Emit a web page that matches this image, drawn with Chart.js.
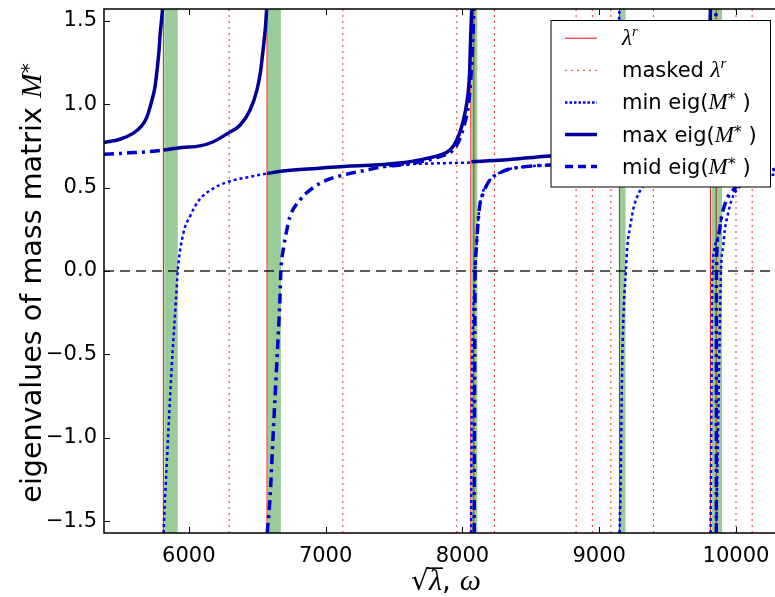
<!DOCTYPE html>
<html>
<head>
<meta charset="utf-8">
<script src="https://cdn.jsdelivr.net/npm/chart.js@4.4.1/dist/chart.umd.min.js"></script>
<style>
  html, body { margin: 0; padding: 0; background: #fff; }
  #wrap { width: 775px; height: 597px; position: relative; }
</style>
</head>
<body>
<div id="wrap"><canvas id="eigChart"></canvas></div>
<script>
const HALF_PI = Math.PI / 2;

// axes
const xLimits = [5380, 10285];
const yLimits = [-HALF_PI, HALF_PI];
const xTicks = [6000, 7000, 8000, 9000, 10000];
const yTicks = [-1.5, -1.0, -0.5, 0.0, 0.5, 1.0, 1.5];

// resonances
const lambdaR = [5814, 6572, 8062, 8084, 9148, 9813, 9855];
const maskedLambdaR = [6295, 7126, 7959, 8234, 8831, 8950, 9085, 9396, 10000, 10118];
const greenBands = [[5820, 5920], [6578, 6673], [8070, 8111], [9151, 9194], [9822, 9898]];

// eigenvalue branches (arctan scale), each branch a list of [x, y]
const maxEig = [
  [[5380, 0.77], [5497, 0.79], [5592, 0.825], [5650, 0.865], [5692, 0.92], [5729, 1.02], [5752, 1.10], [5770, 1.22], [5782, 1.32], [5791, 1.425], [5800, 1.50], [5808, HALF_PI]],
  [[5814, 0.725], [5950, 0.74], [6082, 0.75], [6179, 0.775], [6286, 0.826], [6374, 0.874], [6447, 0.964], [6498, 1.084], [6525, 1.20], [6542, 1.32], [6560, 1.46], [6569, HALF_PI]],
  [[6572, 0.585], [6690, 0.599], [6934, 0.615], [7178, 0.629], [7421, 0.639], [7616, 0.655], [7738, 0.675], [7835, 0.695], [7909, 0.725], [7958, 0.784], [7994, 0.864], [8018, 0.944], [8042, 1.07], [8053, 1.2], [8060, 1.40], [8068, HALF_PI]],
  [[8066, 0.655], [8300, 0.665], [8640, 0.69], [9000, 0.70], [9400, 0.72], [9650, 0.76], [9760, 0.90], [9795, 1.15], [9808, 1.4], [9813, HALF_PI]]
];
const midEig = [
  [[5380, 0.70], [5500, 0.705], [5600, 0.71], [5700, 0.715], [5814, 0.725]],
  [[6573, -HALF_PI], [6593, -1.37], [6617, -0.97], [6642, -0.57], [6666, -0.17], [6673, 0], [6690, 0.126], [6715, 0.24], [6739, 0.325], [6812, 0.425], [6885, 0.485], [7007, 0.545], [7129, 0.575], [7300, 0.605], [7421, 0.625], [7600, 0.64], [7750, 0.665], [7850, 0.69], [7925, 0.72], [7975, 0.78], [8015, 0.88], [8045, 1.0], [8065, 1.2], [8078, 1.42], [8084, HALF_PI]],
  [[8086, -HALF_PI], [8088, -1.0], [8090, -0.5], [8093, 0], [8100, 0.12], [8115, 0.3], [8128, 0.40], [8150, 0.46], [8188, 0.53], [8290, 0.595], [8450, 0.625], [8640, 0.635], [9000, 0.65], [9500, 0.67], [9700, 0.72], [9800, 0.9], [9840, 1.3], [9855, HALF_PI]],
  [[9856, -HALF_PI], [9856.5, -0.6], [9857, 0], [9869, 0.205], [9894, 0.325], [9930, 0.425], [9991, 0.495], [10100, 0.56], [10285, 0.61]]
];
const minEig = [
  [[5815, -HALF_PI], [5826, -1.37], [5850, -0.97], [5875, -0.573], [5906, -0.174], [5919, 0], [5960, 0.226], [6010, 0.33], [6075, 0.425], [6179, 0.495], [6288, 0.535], [6447, 0.565], [6572, 0.585]],
  [[7420, 0.625], [7600, 0.64], [7800, 0.645], [8062, 0.65]],
  [[8063, -HALF_PI], [8068, -0.8], [8078, -0.3], [8090, -0.05], [8095, 0.03], [8115, 0.3], [8128, 0.40], [8188, 0.53], [8290, 0.595], [8450, 0.625], [8640, 0.635], [8900, 0.66], [9080, 0.75], [9130, 1.1], [9148, HALF_PI]],
  [[9149, -HALF_PI], [9158, -1.2], [9166, -0.65], [9178, -0.25], [9195, 0], [9205, 0.145], [9225, 0.26], [9255, 0.39], [9322, 0.51], [9450, 0.58], [9650, 0.63], [9770, 0.75], [9805, 1.2], [9812, HALF_PI]],
  [[9814, -HALF_PI], [9820, -0.8], [9826, -0.1], [9840, 0.12], [9869, 0.205], [9894, 0.325]],
  [[9856, -HALF_PI], [9870, -0.9], [9880, -0.4], [9890, 0], [9906, 0.145], [9918, 0.245], [9942, 0.345], [9967, 0.425], [10004, 0.485], [10100, 0.54], [10285, 0.58]]
];

const SANS = '"DejaVu Sans"';
const SERIF = '"Liberation Serif"';
const MAX_COLOR = '#000099';
const MID_COLOR = '#0000cc';
const MIN_COLOR = '#0000ff';

function branchesToPoints(branches) {
  const pts = [];
  branches.forEach((b, i) => {
    if (i) pts.push({x: b[0][0], y: null});
    b.forEach(([x, y]) => pts.push({x, y}));
  });
  return pts;
}

function verticalLines(xs) {
  const pts = [];
  xs.forEach((x, i) => {
    if (i) pts.push({x, y: null});
    pts.push({x, y: yLimits[0]}, {x, y: yLimits[1]});
  });
  return pts;
}

const curve = {showLine: true, pointRadius: 0, fill: false, spanGaps: false, clip: 0, cubicInterpolationMode: 'monotone', borderCapStyle: 'butt'};
const straight = {showLine: true, pointRadius: 0, fill: false, spanGaps: false, clip: 0, tension: 0, borderCapStyle: 'butt'};

const datasets = [
  {...curve, label: 'mid', data: branchesToPoints(midEig), borderColor: MID_COLOR, borderWidth: 3.5, borderDash: [10, 5, 3, 5], order: 0},
  {...curve, label: 'max', data: branchesToPoints(maxEig), borderColor: MAX_COLOR, borderWidth: 3.5, order: 1},
  {...curve, label: 'min', data: branchesToPoints(minEig), borderColor: MIN_COLOR, borderWidth: 2.5, borderDash: [3, 3], order: 2},
  {...straight, label: 'zero', data: [{x: xLimits[0], y: 0}, {x: xLimits[1], y: 0}], borderColor: 'rgba(0,0,0,0.85)', borderWidth: 1.3, borderDash: [10, 6], order: 3},
  ...greenBands.map(([a, b]) => ({...straight, label: 'band', data: [{x: a, y: yLimits[1]}, {x: b, y: yLimits[1]}], borderWidth: 0, backgroundColor: 'rgba(0,128,0,0.4)', fill: {value: yLimits[0]}, order: 4})),
  {...straight, label: 'lambda r', data: verticalLines(lambdaR), borderColor: '#ff0000', borderWidth: 1, order: 6},
  {...straight, label: 'masked', data: verticalLines(maskedLambdaR), borderColor: 'rgba(255,0,0,0.85)', borderWidth: 1, borderDash: [2, 4], order: 7}
];

function runsWidth(ctx, runs) {
  let w = 0;
  runs.forEach(r => { ctx.font = r.font; w += ctx.measureText(r.text).width; });
  return w;
}
function drawRuns(ctx, runs, x, y) {
  let cx = x;
  runs.forEach(r => {
    ctx.font = r.font;
    ctx.fillText(r.text, cx, y + (r.dy || 0));
    cx += ctx.measureText(r.text).width;
  });
  return cx;
}

const LFS = 21;
const lamR = [{text: 'λ', font: `italic ${LFS + 2}px ${SERIF}`}, {text: 'r', font: `italic ${LFS - 6}px ${SERIF}`, dy: -9}];
const mStar = [{text: 'M', font: `italic ${LFS + 2}px ${SERIF}`}, {text: '*', font: `${LFS - 5}px ${SANS}`, dy: -5}, {text: ' )', font: `${LFS}px ${SANS}`}];
const legendItems = [
  {runs: lamR, line: {color: '#ff0000', width: 1, dash: []}},
  {runs: [{text: 'masked ', font: `${LFS}px ${SANS}`}, ...lamR], line: {color: 'rgba(255,0,0,0.85)', width: 1, dash: [2, 4]}},
  {runs: [{text: 'min eig(', font: `${LFS}px ${SANS}`}, ...mStar], line: {color: MIN_COLOR, width: 2.5, dash: [2.5, 2]}},
  {runs: [{text: 'max eig(', font: `${LFS}px ${SANS}`}, ...mStar], line: {color: MAX_COLOR, width: 3.5, dash: []}},
  {runs: [{text: 'mid eig(', font: `${LFS}px ${SANS}`}, ...mStar], line: {color: MID_COLOR, width: 3.5, dash: [8, 5]}}
];

const decor = {
  id: 'decor',
  afterDatasetsDraw(chart) {
    const {ctx, chartArea: a, scales: {x, y}} = chart;
    ctx.save();
    // frame
    ctx.strokeStyle = '#000';
    ctx.lineWidth = 1.5;
    ctx.beginPath();
    ctx.moveTo(a.right + 2, a.top);
    ctx.lineTo(a.left, a.top);
    ctx.lineTo(a.left, a.bottom);
    ctx.lineTo(a.right + 2, a.bottom);
    ctx.stroke();
    // inward ticks
    ctx.lineWidth = 1;
    ctx.beginPath();
    xTicks.forEach(v => {
      const px = Math.round(x.getPixelForValue(v)) + 0.5;
      ctx.moveTo(px, a.bottom); ctx.lineTo(px, a.bottom - 6);
      ctx.moveTo(px, a.top); ctx.lineTo(px, a.top + 6);
    });
    yTicks.forEach(v => {
      const py = Math.round(y.getPixelForValue(v)) + 0.5;
      ctx.moveTo(a.left, py); ctx.lineTo(a.left + 6, py);
    });
    ctx.stroke();

    // legend
    const box = {l: 551, t: 20.5, r: 770.5, b: 187};
    ctx.fillStyle = '#fff';
    ctx.fillRect(box.l, box.t, box.r - box.l, box.b - box.t);
    ctx.strokeStyle = '#000';
    ctx.lineWidth = 1;
    ctx.strokeRect(box.l, box.t, box.r - box.l, box.b - box.t);
    ctx.textBaseline = 'alphabetic';
    ctx.fillStyle = '#000';
    legendItems.forEach((it, i) => {
      const ry = 38.2 + i * 32.1;
      ctx.save();
      ctx.strokeStyle = it.line.color;
      ctx.lineWidth = it.line.width;
      ctx.setLineDash(it.line.dash);
      ctx.lineCap = 'butt';
      ctx.beginPath();
      ctx.moveTo(565, ry); ctx.lineTo(597, ry);
      ctx.stroke();
      ctx.restore();
      drawRuns(ctx, it.runs, 622, ry + 7);
    });
    ctx.restore();
  },
  afterDraw(chart) {
    const {ctx} = chart;
    ctx.save();
    ctx.fillStyle = '#000';
    ctx.textBaseline = 'alphabetic';
    // y label
    const yl = [
      {text: 'eigenvalues of mass matrix ', font: `28.6px ${SANS}`},
      {text: 'M', font: `italic 29.6px ${SERIF}`},
      {text: '*', font: `20px ${SANS}`, dy: -6}
    ];
    ctx.translate(41, 283);
    ctx.rotate(-Math.PI / 2);
    drawRuns(ctx, yl, -runsWidth(ctx, yl) / 2, 0);
    ctx.setTransform(1, 0, 0, 1, 0, 0);
    // x label: sqrt(lambda), omega
    const fs = 28;
    const base = 590;
    const parts = [
      {text: '√', font: `${fs}px ${SANS}`},
      {text: 'λ', font: `italic ${fs + 2}px ${SERIF}`},
      {text: ', ', font: `${fs}px ${SANS}`},
      {text: 'ω', font: `italic ${fs + 2}px ${SERIF}`}
    ];
    const w = runsWidth(ctx, parts);
    const cx = 446 - w / 2;
    ctx.font = parts[0].font;
    const sw = ctx.measureText('√').width;
    ctx.font = parts[1].font;
    const lw = ctx.measureText('λ').width;
    drawRuns(ctx, parts, cx, base);
    ctx.strokeStyle = '#000';
    ctx.lineWidth = 1.6;
    ctx.beginPath();
    ctx.moveTo(cx + sw - 1.5, base - 0.78 * fs);
    ctx.lineTo(cx + sw + lw + 1, base - 0.78 * fs);
    ctx.stroke();
    ctx.restore();
  }
};

function noPad(s) {
  s.paddingLeft = 0; s.paddingRight = 0; s.paddingTop = 0; s.paddingBottom = 0;
}

new Chart(document.getElementById('eigChart'), {
  type: 'scatter',
  data: {datasets},
  options: {
    responsive: true,
    maintainAspectRatio: false,
    animation: false,
    events: [],
    devicePixelRatio: 1,
    layout: {padding: {top: 9, right: 0, left: 0, bottom: 0}},
    plugins: {legend: {display: false}, tooltip: {enabled: false}},
    scales: {
      x: {
        type: 'linear',
        min: xLimits[0],
        max: xLimits[1],
        afterBuildTicks: s => { s.ticks = xTicks.map(v => ({value: v})); },
        afterFit: s => { s.height = 64; noPad(s); },
        grid: {display: false, drawTicks: false},
        border: {display: false},
        ticks: {color: '#000', font: {family: SANS, size: 21}, padding: 11, maxRotation: 0, autoSkip: false, callback: v => String(v)}
      },
      y: {
        type: 'linear',
        min: yLimits[0],
        max: yLimits[1],
        afterBuildTicks: s => { s.ticks = yTicks.map(v => ({value: v})); },
        afterFit: s => { s.width = 104; noPad(s); },
        grid: {display: false, drawTicks: false},
        border: {display: false},
        ticks: {color: '#000', font: {family: SANS, size: 21}, padding: 7, autoSkip: false, callback: v => (v < 0 ? '\u2212' : '') + Math.abs(v).toFixed(1)}
      }
    }
  },
  plugins: [decor]
});
</script>
</body>
</html>
